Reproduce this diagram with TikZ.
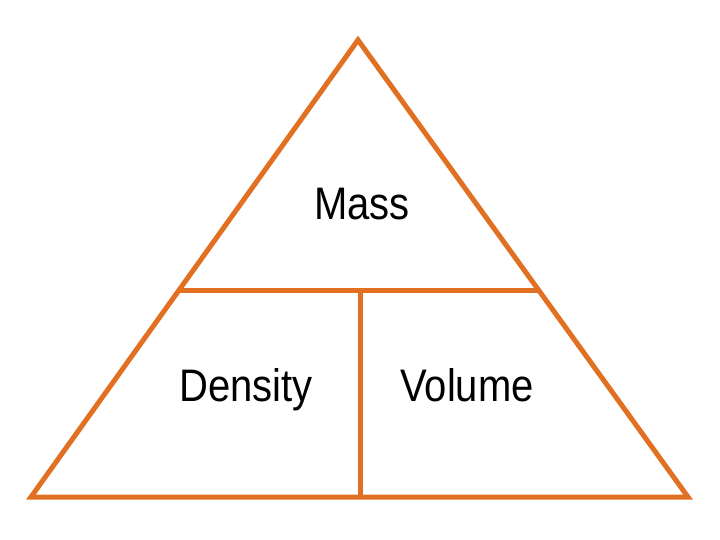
\documentclass[tikz,border=0pt]{standalone}
\usepackage{fontspec}
\setmainfont{Liberation Sans}
\usetikzlibrary{calc}
\definecolor{triorange}{RGB}{226,112,34}
\begin{document}
\begin{tikzpicture}[
      x=1pt, y=-1pt,
      edge/.style={draw=triorange, line width=5pt, line join=miter},
      word/.style={font=\fontsize{40}{48}\selectfont, text=black, anchor=base, yscale=1.14, transform shape}
    ]
      \useasboundingbox (0,0) rectangle (720,540);
      % corners of the triangle
      \coordinate (top) at (358,40);
      \coordinate (bl) at (31,497);
      \coordinate (br) at (688,497);
      \coordinate (ml) at ($(top)!0.549!(bl)$);
      \coordinate (mr) at ($(top)!0.549!(br)$);
      \coordinate (mid) at (360,292);
      \coordinate (bot) at (360,497);
      \draw[edge] (top) -- (br) -- (bl) -- cycle;
      \draw[edge] (ml) -- (mr);
      \draw[edge] (mid) -- (bot);
      % labels
      \node[word] (mass) at (362,220) {Mass};
      \node[word] (density) at (246,401) {Density};
      \node[word] (volume) at (467,401) {Volume};
    \end{tikzpicture}
\end{document}
